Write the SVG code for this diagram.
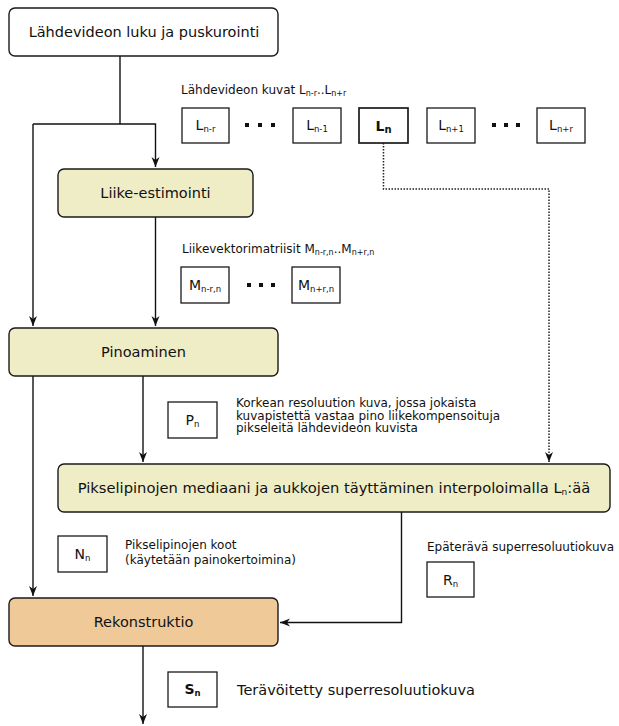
<svg xmlns="http://www.w3.org/2000/svg" width="619" height="726" viewBox="0 0 619 726">
<defs>
<marker id="arr" markerWidth="11" markerHeight="10" refX="10" refY="5" orient="auto" markerUnits="userSpaceOnUse">
<path d="M10,5 L0,1 L3,5 L0,9 Z" fill="#111"/>
</marker>
<style>
.box{stroke:#1a1a1a;stroke-width:1.4;}
.main{font-family:"DejaVu Sans",sans-serif;font-size:14.5px;fill:#111;text-anchor:middle;}
.note{font-family:"DejaVu Sans",sans-serif;font-size:12px;fill:#111;}
.big{font-size:14.5px;}
.lbl{font-family:"DejaVu Sans",sans-serif;font-size:12px;fill:#111;}
.sym{font-family:"DejaVu Sans",sans-serif;font-size:14px;fill:#111;text-anchor:middle;}
.sb{font-size:8.5px;}
.lsb{font-size:8px;}
.bold{font-weight:bold;}
.data{fill:#fff;stroke:#1a1a1a;stroke-width:1.3;}
.line{fill:none;stroke:#111;stroke-width:1.4;}
.dot{fill:none;stroke:#222;stroke-width:1.5;stroke-dasharray:1.5 1.5;}
.sq{fill:#111;}
</style>
</defs>
<rect width="619" height="726" fill="#fff"/>

<g id="connectors">
<path class="line" d="M120,56 V124"/>
<path class="line" d="M33,124 H155.5 V167" marker-end="url(#arr)"/>
<path class="line" d="M33,124 V326" marker-end="url(#arr)"/>
<path class="line" d="M155.5,217 V326" marker-end="url(#arr)"/>
<path class="line" d="M143,376 V462" marker-end="url(#arr)"/>
<path class="line" d="M33,376 V596" marker-end="url(#arr)"/>
<path class="dot" d="M383.5,143 V189 H549 V462" marker-end="url(#arr)"/>
<path class="line" d="M401.5,512 V622.5 H280" marker-end="url(#arr)"/>
<path class="line" d="M143,646 V724" marker-end="url(#arr)"/>
</g>

<g id="n-source">
<rect class="box" x="9" y="8" width="269" height="48" rx="6" fill="#fff"/>
<text class="main" x="144" y="37">Lähdevideon luku ja puskurointi</text>
</g>

<g id="frames-label">
<text class="lbl" x="181" y="94">Lähdevideon kuvat L<tspan class="lsb" dy="2">n-r</tspan><tspan dy="-2">..L</tspan><tspan class="lsb" dy="2">n+r</tspan></text>
</g>
<g id="frame-Lnr">
<rect class="data" x="182" y="108" width="47" height="35"/>
<text class="sym" x="205.5" y="130">L<tspan class="sb" dy="2">n-r</tspan></text>
</g>
<g id="dots-1">
<rect class="sq" x="245" y="123" width="4" height="4"/>
<rect class="sq" x="258" y="123" width="4" height="4"/>
<rect class="sq" x="271" y="123" width="4" height="4"/>
</g>
<g id="frame-Ln1m">
<rect class="data" x="293" y="108" width="48" height="35"/>
<text class="sym" x="317" y="130">L<tspan class="sb" dy="2">n-1</tspan></text>
</g>
<g id="frame-Ln">
<rect class="data" x="359" y="108" width="49" height="35" style="stroke-width:1.7"/>
<text class="sym bold" x="383.5" y="131">L<tspan class="sb" dy="2" style="font-size:10px">n</tspan></text>
</g>
<g id="frame-Ln1p">
<rect class="data" x="427" y="108" width="48" height="35"/>
<text class="sym" x="451" y="130">L<tspan class="sb" dy="2">n+1</tspan></text>
</g>
<g id="dots-2">
<rect class="sq" x="492" y="123" width="4" height="4"/>
<rect class="sq" x="504" y="123" width="4" height="4"/>
<rect class="sq" x="516" y="123" width="4" height="4"/>
</g>
<g id="frame-Lnrp">
<rect class="data" x="537" y="108" width="48" height="35"/>
<text class="sym" x="561" y="130">L<tspan class="sb" dy="2">n+r</tspan></text>
</g>

<g id="n-motion">
<rect class="box" x="58" y="169" width="195" height="48" rx="6" fill="#efedc6"/>
<text class="main" x="155.5" y="198">Liike-estimointi</text>
</g>

<g id="mv-label">
<text class="lbl" x="182" y="253">Liikevektorimatriisit M<tspan class="lsb" dy="2">n-r,n</tspan><tspan dy="-2">..M</tspan><tspan class="lsb" dy="2">n+r,n</tspan></text>
</g>
<g id="mv-1">
<rect class="data" x="181" y="267" width="48" height="36"/>
<text class="sym" x="205" y="290">M<tspan class="sb" dy="2">n-r,n</tspan></text>
</g>
<g id="dots-3">
<rect class="sq" x="247" y="283" width="4" height="4"/>
<rect class="sq" x="259" y="283" width="4" height="4"/>
<rect class="sq" x="271" y="283" width="4" height="4"/>
</g>
<g id="mv-2">
<rect class="data" x="292" y="267" width="48" height="36"/>
<text class="sym" x="316" y="290">M<tspan class="sb" dy="2">n+r,n</tspan></text>
</g>

<g id="n-stack">
<rect class="box" x="9" y="328" width="269" height="48" rx="6" fill="#efedc6"/>
<text class="main" x="143.5" y="357">Pinoaminen</text>
</g>

<g id="pn">
<rect class="data" x="168" y="402" width="49" height="36"/>
<text class="sym" x="192.5" y="425">P<tspan class="sb" dy="2">n</tspan></text>
<text class="note" x="236" y="407">Korkean resoluution kuva, jossa jokaista</text>
<text class="note" x="236" y="419.5">kuvapistettä vastaa pino liikekompensoituja</text>
<text class="note" x="236" y="432">pikseleitä lähdevideon kuvista</text>
</g>

<g id="n-median">
<rect class="box" x="58" y="464" width="552" height="48" rx="6" fill="#efedc6"/>
<text class="main" x="334" y="493" style="font-size:14.7px">Pikselipinojen mediaani ja aukkojen täyttäminen interpoloimalla L<tspan dy="2" style="font-size:9px">n</tspan><tspan dy="-2">:ää</tspan></text>
</g>

<g id="nn">
<rect class="data" x="58" y="536" width="49" height="36"/>
<text class="sym" x="82.5" y="559">N<tspan class="sb" dy="2">n</tspan></text>
<text class="note" x="125" y="549">Pikselipinojen koot</text>
<text class="note" x="125" y="564">(käytetään painokertoimina)</text>
</g>

<g id="rn">
<text class="note" x="427" y="551">Epäterävä superresoluutiokuva</text>
<rect class="data" x="427" y="562" width="47" height="35"/>
<text class="sym" x="450.5" y="585">R<tspan class="sb" dy="2">n</tspan></text>
</g>

<g id="n-recon">
<rect class="box" x="9" y="598" width="269" height="48" rx="6" fill="#f0c999"/>
<text class="main" x="143.5" y="627">Rekonstruktio</text>
</g>

<g id="sn">
<rect class="data" x="168" y="672" width="49" height="35"/>
<text class="sym bold" x="192.5" y="694">S<tspan class="sb" dy="2">n</tspan></text>
<text class="note big" x="237" y="695">Terävöitetty superresoluutiokuva</text>
</g>
</svg>
